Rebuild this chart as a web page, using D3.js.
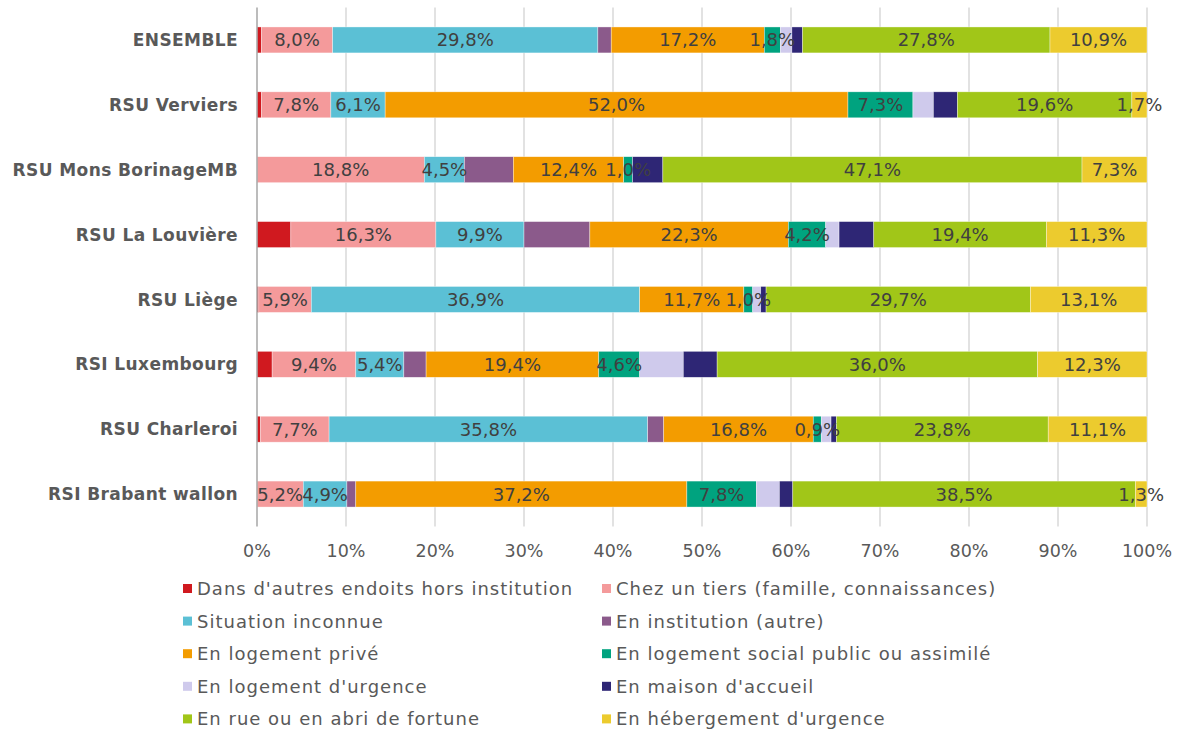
<!DOCTYPE html>
<html><head><meta charset="utf-8">
<script src="https://cdn.jsdelivr.net/npm/d3@7"></script>
<style>
body{margin:0;background:#fff;}
svg{display:block;font-family:"DejaVu Sans",sans-serif;}
</style></head>
<body><svg id="chart" width="1181" height="731"></svg>
<script>
const categories = ["ENSEMBLE","RSU Verviers","RSU Mons BorinageMB","RSU La Louvière","RSU Liège","RSI Luxembourg","RSU Charleroi","RSI Brabant wallon"];
const seriesNames = ["Dans d'autres endoits hors institution","Chez un tiers (famille, connaissances)","Situation inconnue","En institution (autre)","En logement privé","En logement social public ou assimilé","En logement d'urgence","En maison d'accueil","En rue ou en abri de fortune","En hébergement d'urgence"];
const seriesColors = ["#d0191f","#f49a9b","#5bc0d5","#8b5a8b","#f39c00","#00a37f","#cfcaec","#2e2675","#a1c618","#eccb2e"];
const labelled = [false,true,true,false,true,true,false,false,true,true];
// values per series, in category order
const sDans      = [0.5,0.5,0.0,3.8,0.2,1.7,0.4,0.0];
const sChez      = [8.0,7.8,18.8,16.3,5.9,9.4,7.7,5.2];
const sInconnue  = [29.8,6.1,4.5,9.9,36.9,5.4,35.8,4.9];
const sInstit    = [1.5,0.0,5.5,7.4,0.0,2.5,1.8,1.0];
const sPrive     = [17.2,52.0,12.4,22.3,11.7,19.4,16.8,37.2];
const sSocial    = [1.8,7.3,1.0,4.2,1.0,4.6,0.9,7.8];
const sLogUrg    = [1.3,2.3,0.0,1.5,0.9,4.9,1.1,2.6];
const sMaison    = [1.2,2.7,3.4,3.9,0.6,3.8,0.6,1.5];
const sRue       = [27.8,19.6,47.1,19.4,29.7,36.0,23.8,38.5];
const sHeberg    = [10.9,1.7,7.3,11.3,13.1,12.3,11.1,1.3];
const seriesValues = [sDans,sChez,sInconnue,sInstit,sPrive,sSocial,sLogUrg,sMaison,sRue,sHeberg];
const xTicks = [0,10,20,30,40,50,60,70,80,90,100];

const svg = d3.select("#chart");
const pLeft = 257, pRight = 1147, pTop = 7.5, pBottom = 526.5;
const x = d3.scaleLinear().domain([0,100]).range([pLeft,pRight]);
const y = d3.scaleBand().domain(categories).range([pTop,pBottom]).paddingInner(0.6).paddingOuter(0.3);
const fmt = v => v.toFixed(1).replace(".", ",") + "%";

// gridlines
svg.append("g").selectAll("line").data(xTicks.filter(t=>t>0)).join("line")
  .attr("x1",d=>x(d)).attr("x2",d=>x(d)).attr("y1",pTop).attr("y2",pBottom)
  .attr("stroke","#d9d9d9").attr("stroke-width",1.5);

// stacked data
const rows = categories.map((c,i)=>{ const o={cat:c}; seriesNames.forEach((s,j)=>o[s]=seriesValues[j][i]); return o;});
const stack = d3.stack().keys(seriesNames)(rows);

const g = svg.append("g");
stack.forEach((layer,j)=>{
  g.append("g").selectAll("rect").data(layer).join("rect")
    .attr("x",d=>x(d[0])).attr("width",d=>x(d[1])-x(d[0]))
    .attr("y",d=>y(d.data.cat)).attr("height",y.bandwidth())
    .attr("fill",seriesColors[j]).attr("stroke","#fff").attr("stroke-width",0.6).attr("stroke-opacity",0.6);
});
stack.forEach((layer,j)=>{
  if(!labelled[j]) return;
  g.append("g").selectAll("text").data(layer.filter(d=>d[1]-d[0]>0)).join("text")
    .attr("x",d=>x((d[0]+d[1])/2)).attr("y",d=>y(d.data.cat)+y.bandwidth()/2)
    .attr("dy","0.36em").attr("text-anchor","middle")
    .attr("font-size",18).attr("fill","#404040")
    .text(d=>fmt(d[1]-d[0]));
});

// left axis line
svg.append("line").attr("x1",pLeft).attr("x2",pLeft).attr("y1",pTop).attr("y2",pBottom)
  .attr("stroke","#a6a6a6").attr("stroke-width",1.5);

// y labels
svg.append("g").selectAll("text").data(categories).join("text")
  .attr("x",238).attr("y",d=>y(d)+y.bandwidth()/2).attr("dy","0.36em")
  .attr("text-anchor","end").attr("font-size",17).attr("font-weight",600)
  .attr("letter-spacing",0.4).attr("fill","#595959")
  .text(d=>d);

// x labels
svg.append("g").selectAll("text").data(xTicks).join("text")
  .attr("x",d=>x(d)).attr("y",551).attr("dy","0.36em").attr("text-anchor","middle")
  .attr("font-size",17.5).attr("fill","#595959").text(d=>d+"%");

// legend
const leg = svg.append("g");
seriesNames.forEach((s,j)=>{
  const col = j%2, row = Math.floor(j/2);
  const lx = col===0 ? 183 : 602, ly = 588.5 + row*32.6;
  leg.append("rect").attr("x",lx).attr("y",ly-4.5).attr("width",9).attr("height",9).attr("fill",seriesColors[j]);
  leg.append("text").attr("x",lx+14).attr("y",ly).attr("dy","0.36em").attr("font-size",18)
    .attr("letter-spacing",1.0).attr("fill","#595959").text(s);
});
</script></body></html>
